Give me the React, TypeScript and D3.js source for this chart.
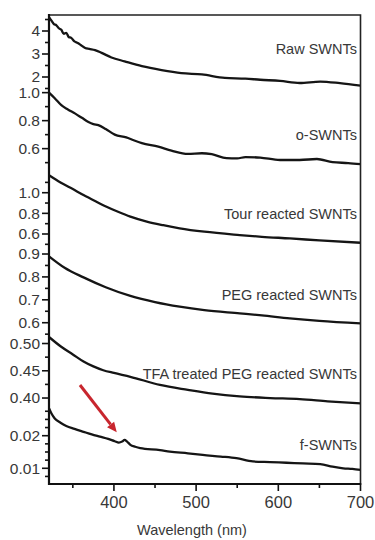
import { useEffect, useRef } from "react";
import * as d3 from "d3";

// spectra: [wavelength nm, absorbance]
const rawSWNTs: [number, number][] = [
  [321, 4.6], [324, 4.45], [327, 4.3], [330, 4.25], [333, 4.12], [336, 4.05], [339, 3.88],
  [342, 3.92], [345, 3.74], [348, 3.7], [352, 3.55], [356, 3.48], [360, 3.38], [365, 3.26],
  [370, 3.22], [377, 3.17], [385, 3.05], [397, 2.85], [413, 2.68], [434, 2.47], [458, 2.3],
  [482, 2.17], [507, 2.11], [535, 1.96], [560, 1.93], [578, 1.88], [602, 1.83], [626, 1.74],
  [651, 1.8], [675, 1.73], [700, 1.62],
];
const oSWNTs: [number, number][] = [
  [321, 1.0], [328, 0.96], [336, 0.91], [344, 0.88], [353, 0.85], [361, 0.82], [369, 0.79],
  [375, 0.775], [381, 0.768], [390, 0.74], [401, 0.7], [415, 0.68], [424, 0.66], [434, 0.64],
  [454, 0.614], [470, 0.586], [490, 0.562], [507, 0.567], [519, 0.56], [537, 0.532],
  [550, 0.53], [560, 0.54], [578, 0.536], [602, 0.519], [626, 0.519], [647, 0.526],
  [666, 0.503], [685, 0.497], [700, 0.49],
];
const tourSWNTs: [number, number][] = [
  [321, 1.17], [335, 1.1], [350, 1.035], [363, 0.978], [377, 0.92], [391, 0.864], [405, 0.815],
  [420, 0.768], [440, 0.72], [460, 0.685], [480, 0.655], [510, 0.622], [553, 0.59],
  [580, 0.573], [614, 0.557], [650, 0.538], [700, 0.515],
];
const pegSWNTs: [number, number][] = [
  [321, 0.89], [340, 0.84], [363, 0.798], [390, 0.755], [420, 0.717], [450, 0.69], [480, 0.67],
  [510, 0.655], [553, 0.641], [580, 0.632], [614, 0.619], [650, 0.608], [700, 0.597],
];
const tfaSWNTs: [number, number][] = [
  [321, 0.512], [335, 0.495], [350, 0.48], [363, 0.467], [375, 0.458], [387, 0.451],
  [400, 0.446], [420, 0.439], [456, 0.424], [490, 0.415], [520, 0.408], [553, 0.403],
  [590, 0.4], [626, 0.398], [660, 0.394], [700, 0.39],
];
const fSWNTs: [number, number][] = [
  [321, 0.0284], [324, 0.0268], [328, 0.0253], [335, 0.024], [342, 0.023], [352, 0.0221],
  [363, 0.0212], [373, 0.0204], [383, 0.0197], [393, 0.019], [401, 0.0183], [406, 0.0179],
  [410, 0.0182], [413, 0.0187], [416, 0.0182], [420, 0.0172], [426, 0.0166], [432, 0.0162],
  [456, 0.0156], [468, 0.0151], [490, 0.0146], [508, 0.0141], [530, 0.0136], [549, 0.0131],
  [569, 0.0121], [590, 0.0119], [610, 0.0117], [630, 0.0115], [651, 0.0113], [666, 0.0105],
  [679, 0.01], [690, 0.0098], [700, 0.0095],
];

const seriesNames = [
  "Raw SWNTs", "o-SWNTs", "Tour reacted SWNTs", "PEG reacted SWNTs",
  "TFA treated PEG reacted SWNTs", "f-SWNTs",
];
const seriesData = [rawSWNTs, oSWNTs, tourSWNTs, pegSWNTs, tfaSWNTs, fSWNTs];

// per-panel y domains, tick values and labels
const panelDomains: [number, number][] = [
  [1.478, 4.696], [0.426, 1.026], [0.474, 1.191], [0.542, 0.9306], [0.3872, 0.5138], [0.00518, 0.02942],
];
const majorTicks = [
  [2, 3, 4], [0.6, 0.8, 1.0], [0.6, 0.8, 1.0], [0.6, 0.7, 0.8, 0.9], [0.4, 0.45, 0.5], [0.01, 0.02],
];
const majorLabels = [
  ["2", "3", "4"], ["0.6", "0.8", "1.0"], ["0.6", "0.8", "1.0"], ["0.6", "0.7", "0.8", "0.9"],
  ["0.40", "0.45", "0.50"], ["0.01", "0.02"],
];
const minorTicks = [
  [1.5, 2.5, 3.5, 4.5], [0.5, 0.7, 0.9], [0.5, 0.7, 0.9, 1.1], [0.55, 0.65, 0.75, 0.85],
  [0.425, 0.475], [0.0075, 0.0125, 0.015, 0.0175, 0.0225, 0.025, 0.0275],
];
// where each name sits, in that panel's units
const labelValues = [3.2, 0.698, 0.791, 0.721, 0.444, 0.01715];

const xTicks = [400, 500, 600, 700];
const xMinorTicks = [350, 450, 550, 650];

// red arrow pointing at the f-SWNT feature: [wavelength, f-SWNT units]
const arrowFrom: [number, number] = [358.7, 0.03555];
const arrowTo: [number, number] = [403.4, 0.02104];

export default function App() {
  const svgRef = useRef<SVGSVGElement>(null);

  useEffect(() => {
    if (!svgRef.current) return;
    const width = 375;
    const height = 540;
    const left = 49, right = 360.5, top = 15, bottom = 484;
    const bands: [number, number][] = [[89, 15], [173, 89], [247, 173], [336, 247], [405, 336], [484, 405]];
    const textColor = "#383838";
    const font = "Arial, 'Liberation Sans', Helvetica, sans-serif";

    const svg = d3.select(svgRef.current);
    svg.selectAll("*").remove();
    svg.attr("viewBox", `0 0 ${width} ${height}`);

    const x = d3.scaleLinear().domain([321, 700]).range([left, right]);
    const ys = panelDomains.map((d, i) => d3.scaleLinear().domain(d).range(bands[i]));

    // curves
    seriesData.forEach((data, i) => {
      const line = d3.line<[number, number]>()
        .x(d => x(d[0]))
        .y(d => ys[i](d[1]))
        .curve(d3.curveMonotoneX);
      svg.append("path")
        .datum(data)
        .attr("d", line)
        .attr("fill", "none")
        .attr("stroke", "#151515")
        .attr("stroke-width", 2.3)
        .attr("stroke-linejoin", "round");
    });

    // series names
    svg.append("g")
      .selectAll("text")
      .data(seriesNames)
      .join("text")
      .attr("x", 357)
      .attr("y", (_, i) => ys[i](labelValues[i]))
      .attr("dy", "0.35em")
      .attr("text-anchor", "end")
      .attr("font-family", font)
      .attr("font-size", "14.5px")
      .attr("fill", textColor)
      .text(d => d);

    // y ticks for every panel
    const yAxis = svg.append("g");
    ys.forEach((y, i) => {
      minorTicks[i].forEach(v => {
        yAxis.append("line")
          .attr("x1", left - 4).attr("x2", left)
          .attr("y1", y(v)).attr("y2", y(v))
          .attr("stroke", "#111").attr("stroke-width", 1.6);
      });
      majorTicks[i].forEach((v, j) => {
        yAxis.append("line")
          .attr("x1", left - 7).attr("x2", left)
          .attr("y1", y(v)).attr("y2", y(v))
          .attr("stroke", "#111").attr("stroke-width", 1.6);
        yAxis.append("text")
          .attr("x", left - 9)
          .attr("y", y(v))
          .attr("dy", "0.35em")
          .attr("text-anchor", "end")
          .attr("font-family", font)
          .attr("font-size", "15.5px")
          .attr("fill", textColor)
          .text(majorLabels[i][j]);
      });
    });

    // x ticks
    const xAxis = svg.append("g");
    xMinorTicks.forEach(v => {
      xAxis.append("line")
        .attr("x1", x(v)).attr("x2", x(v))
        .attr("y1", bottom).attr("y2", bottom + 4)
        .attr("stroke", "#111").attr("stroke-width", 1.6);
    });
    xTicks.forEach(v => {
      xAxis.append("line")
        .attr("x1", x(v)).attr("x2", x(v))
        .attr("y1", bottom).attr("y2", bottom + 7)
        .attr("stroke", "#111").attr("stroke-width", 1.6);
      xAxis.append("text")
        .attr("x", x(v))
        .attr("y", bottom + 18)
        .attr("dy", "0.35em")
        .attr("text-anchor", "middle")
        .attr("font-family", font)
        .attr("font-size", "16.5px")
        .attr("fill", textColor)
        .text(String(v));
    });

    svg.append("text")
      .attr("x", 192)
      .attr("y", 530)
      .attr("dy", "0.35em")
      .attr("text-anchor", "middle")
      .attr("font-family", font)
      .attr("font-size", "14.5px")
      .attr("fill", textColor)
      .text("Wavelength (nm)");

    // frame
    svg.append("path")
      .attr("d", `M${left},${top}H${right}V${bottom}`)
      .attr("fill", "none")
      .attr("stroke", "#222")
      .attr("stroke-width", 1.6);
    svg.append("path")
      .attr("d", `M${left},${top - 1}V${bottom}H${right + 0.8}`)
      .attr("fill", "none")
      .attr("stroke", "#111")
      .attr("stroke-width", 2.2);

    // red arrow
    const fy = ys[5];
    const x1 = x(arrowFrom[0]), y1 = fy(arrowFrom[1]);
    const x2 = x(arrowTo[0]), y2 = fy(arrowTo[1]);
    const ang = Math.atan2(y2 - y1, x2 - x1);
    const headLen = 10, headW = 4.5;
    const bx = x2 - headLen * Math.cos(ang), by = y2 - headLen * Math.sin(ang);
    svg.append("line")
      .attr("x1", x1).attr("y1", y1)
      .attr("x2", bx).attr("y2", by)
      .attr("stroke", "#c8262e")
      .attr("stroke-width", 3);
    svg.append("path")
      .attr("d", `M${x2},${y2}L${bx - headW * Math.sin(ang)},${by + headW * Math.cos(ang)}L${bx + headW * Math.sin(ang)},${by - headW * Math.cos(ang)}Z`)
      .attr("fill", "#c8262e");
  }, []);

  return (
    <div style={{ position: "absolute", left: 0, top: 0, width: 375, height: 540, background: "#fff" }}>
      <svg ref={svgRef} width={375} height={540} style={{ display: "block" }} />
    </div>
  );
}
